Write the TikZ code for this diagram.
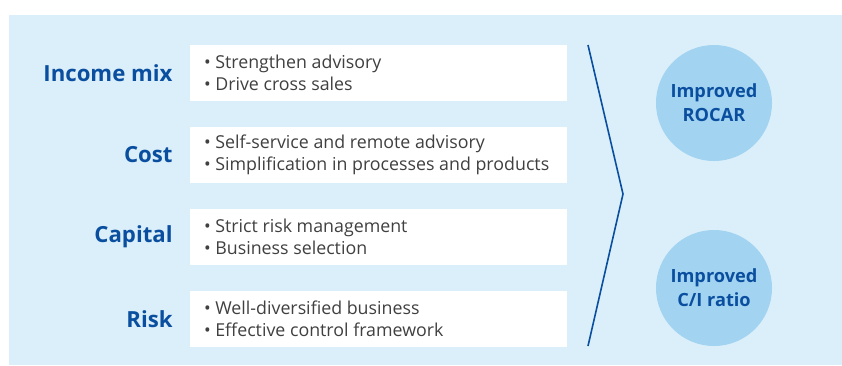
\documentclass[tikz,border=0pt]{standalone}
\usepackage{fontspec}
\setmainfont{Open Sans}
\usetikzlibrary{positioning}

\definecolor{bgblue}{HTML}{DBEFFB}
\definecolor{circblue}{HTML}{A2D3F0}
\definecolor{darkblue}{HTML}{0A4F9F}
\definecolor{textgray}{HTML}{404040}

\tikzset{
  lever/.style={font=\fontsize{22.2}{26}\selectfont\bfseries, text=darkblue, inner sep=0pt},
  actbox/.style={fill=white, minimum width=377pt, minimum height=56pt, inner sep=0pt},
  acttext/.style={font=\fontsize{17.8}{22}\selectfont, text=textgray, align=left, inner sep=0pt},
  goal/.style={circle, fill=circblue, minimum size=116pt, inner sep=0pt, align=center,
    font=\fontsize{18.2}{24}\selectfont\bfseries, text=darkblue}
}

\begin{document}
\begin{tikzpicture}[x=1pt,y=-1pt]
  \useasboundingbox (0,0) rectangle (842,365);

  % background panel
  \fill[bgblue] (9,15) rectangle (842,365);

  % white boxes with the actions
  \node[actbox] (box1) at (378.5,73) {};
  \node[actbox] (box2) at (378.5,155) {};
  \node[actbox] (box3) at (378.5,237) {};
  \node[actbox] (box4) at (378.5,319) {};

  \node[acttext, right=14pt of box1.west] (act1) {\textbullet\ Strengthen advisory\\\textbullet\ Drive cross sales};
  \node[acttext, right=14pt of box2.west] (act2) {\textbullet\ Self-service and remote advisory\\\textbullet\ Simplification in processes and products};
  \node[acttext, right=14pt of box3.west] (act3) {\textbullet\ Strict risk management\\\textbullet\ Business selection};
  \node[acttext, right=14pt of box4.west] (act4) {\textbullet\ Well-diversified business\\\textbullet\ Effective control framework};

  % levers on the left
  \node[lever, left=17pt of box1.west] (income) {Income mix};
  \node[lever, left=17pt of box2.west] (cost) {Cost};
  \node[lever, left=17pt of box3.west] (capital) {Capital};
  \node[lever, left=17pt of box4.west] (risk) {Risk};

  % chevron
  \coordinate (top) at (588,45);
  \coordinate (tip) at (623,194);
  \coordinate (bot) at (588,346);
  \draw[darkblue, line width=1.6pt] (top) -- (tip) -- (bot);

  % outcomes
  \node[goal] (rocar) at (714,103) {Improved\\ROCAR};
  \node[goal] (ciratio) at (714,288) {Improved\\C/I ratio};

\end{tikzpicture}
\end{document}
